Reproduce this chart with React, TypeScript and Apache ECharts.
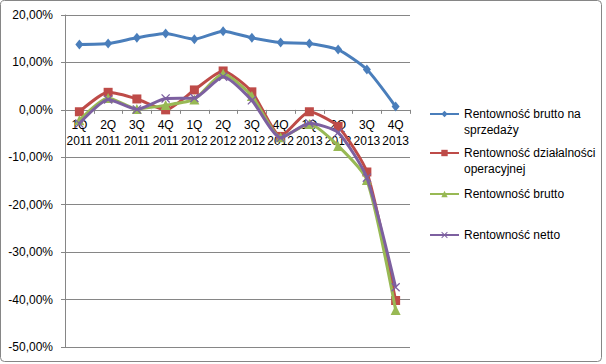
import React, { useEffect, useRef } from "react";
import * as echarts from "echarts";

const categories = [
  "1Q\n2011", "2Q\n2011", "3Q\n2011", "4Q\n2011",
  "1Q\n2012", "2Q\n2012", "3Q\n2012", "4Q\n2012",
  "1Q\n2013", "2Q\n2013", "3Q\n2013", "4Q\n2013",
];

const seriesNames = [
  "Rentowność brutto na sprzedaży",
  "Rentowność działalności operacyjnej",
  "Rentowność brutto",
  "Rentowność netto",
];

const legendLabels = [
  "Rentowność brutto na\nsprzedaży",
  "Rentowność działalności\noperacyjnej",
  "Rentowność brutto",
  "Rentowność netto",
];

const brutoSprzedazy = [13.8, 14.0, 15.2, 16.1, 14.9, 16.6, 15.2, 14.2, 14.0, 12.7, 8.5, 0.7];
const dzialalnosciOperacyjnej = [-0.4, 3.7, 2.3, 0.0, 4.2, 8.2, 3.8, -5.6, -0.4, -3.5, -13.1, -40.2];
const brutto = [-2.2, 2.5, 0.2, 1.0, 2.2, 7.6, 2.9, -5.8, -3.0, -7.6, -14.8, -42.2];
const netto = [-2.9, 2.2, 0.1, 2.4, 2.5, 7.0, 2.0, -5.9, -2.8, -4.8, -14.3, -37.4];

const yTickMin = -50;
const yTickMax = 20;
const yTickStep = 10;

const colors = ["#4A7EBB", "#BE4B48", "#98B954", "#7D60A0"];
const crossPath =
  "path://M0,1 L1,0 L5,4 L9,0 L10,1 L6,5 L10,9 L9,10 L5,6 L1,10 L0,9 L4,5 Z";

export default function App() {
  const ref = useRef<HTMLDivElement>(null);

  useEffect(() => {
    if (!ref.current) return;
    const chart = echarts.init(ref.current, undefined, { renderer: "svg" });
    const font = "Liberation Sans";
    const values = [brutoSprzedazy, dzialalnosciOperacyjnej, brutto, netto];
    const symbols = ["diamond", "rect", "triangle", crossPath];
    const symbolSizes: any[] = [[8, 10], 9, 10, 9];
    const legendTops = [90, 129, 186, 227];

    const gridTop = 15;
    const gridBottom = 17;
    const plotHeight = 364 - gridTop - gridBottom;
    const zeroOffset = -(plotHeight * (0 - yTickMin)) / (yTickMax - yTickMin);

    const option: any = {
      animation: false,
      backgroundColor: "#ffffff",
      textStyle: { fontFamily: font },
      grid: { left: 65, right: 196, top: gridTop, bottom: gridBottom, containLabel: false },
      xAxis: {
        type: "category",
        data: categories,
        boundaryGap: true,
        position: "bottom",
        offset: zeroOffset,
        axisLine: { onZero: false, lineStyle: { color: "#868686", width: 1 } },
        axisTick: { show: true, length: 4, alignWithLabel: false, lineStyle: { color: "#868686" } },
        axisLabel: {
          interval: 0,
          margin: 7,
          color: "#000",
          fontSize: 12,
          lineHeight: 16,
          fontFamily: font,
          hideOverlap: false,
        },
        splitLine: { show: false },
        z: 1,
      },
      yAxis: {
        type: "value",
        min: yTickMin,
        max: yTickMax,
        interval: yTickStep,
        axisLine: { show: true, lineStyle: { color: "#868686", width: 1 } },
        axisTick: { show: true, length: 4, lineStyle: { color: "#868686" } },
        axisLabel: {
          color: "#000",
          fontSize: 12,
          fontFamily: font,
          margin: 12,
          formatter: (v: number) => v.toFixed(2).replace(".", ",") + "%",
        },
        splitLine: { show: true, lineStyle: { color: "#868686", width: 1 } },
      },
      legend: seriesNames.map((name, i) => ({
        data: [name],
        orient: "vertical",
        left: 429,
        top: legendTops[i],
        padding: 0,
        itemWidth: 29,
        itemHeight: 8,
        itemGap: 0,
        selectedMode: false,
        formatter: () => (legendLabels[i].includes("\n") ? "\n" + legendLabels[i] : legendLabels[i]),
        textStyle: { fontSize: 12, lineHeight: 16, color: "#000", fontFamily: font },
      })),
      series: seriesNames.map((name, i) => ({
        name,
        type: "line",
        data: values[i],
        smooth: 0.2,
        symbol: symbols[i],
        symbolSize: symbolSizes[i],
        showAllSymbol: true,
        lineStyle: { color: colors[i], width: 3 },
        itemStyle: { color: colors[i] },
        z: 2 + i,
      })),
      graphic: [
        {
          type: "rect",
          shape: { x: 0.5, y: 0.5, width: 601, height: 361, r: 4 },
          style: { fill: "none", stroke: "#868686", lineWidth: 1 },
          silent: true,
          z: 100,
        },
      ],
    };
    chart.setOption(option);
    return () => chart.dispose();
  }, []);

  return (
    <div
      ref={ref}
      style={{ position: "fixed", left: 0, top: 0, width: 606, height: 364 }}
    />
  );
}
